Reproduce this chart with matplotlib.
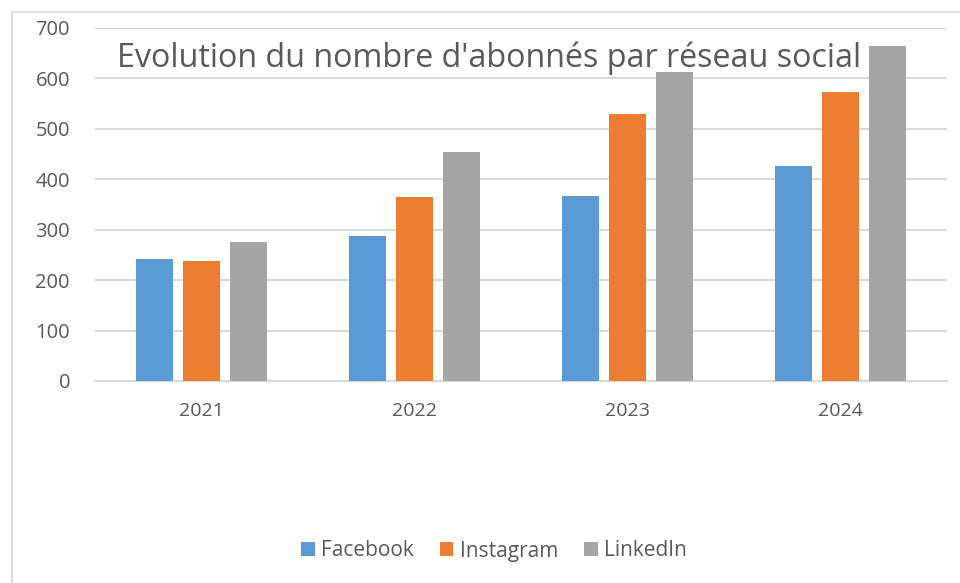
import matplotlib.pyplot as plt
import numpy as np
from matplotlib.patches import Rectangle

years = ['2021', '2022', '2023', '2024']
facebook = [242, 288, 367, 427]
instagram = [237, 365, 530, 573]
linkedin = [275, 455, 612, 665]

series = ['Facebook', 'Instagram', 'LinkedIn']
colors = ['#5B9BD5', '#ED7D31', '#A5A5A5']
text_color = '#595959'

plt.rcParams['font.family'] = ['Open Sans', 'DejaVu Sans']

W, H = 960, 583
fig = plt.figure(figsize=(W / 100, H / 100), dpi=100)
ax = fig.add_axes([95 / W, 1 - 381 / H, (947 - 95) / W, (381 - 28) / H])

x = np.arange(len(years))
step = 0.22
width = 0.175
for i, (name, vals) in enumerate(zip(series, [facebook, instagram, linkedin])):
    ax.bar(x + (i - 1) * step, vals, width, color=colors[i], label=name, zorder=3)

ax.set_xlim(-0.5, len(years) - 0.5)
ax.set_ylim(0, 700)
ax.set_yticks(range(0, 701, 100))
ax.set_xticks(x)
ax.set_xticklabels(years)
ax.yaxis.grid(True, color='#D9D9D9', linewidth=1.5, zorder=0)
ax.set_axisbelow(True)
for s in ['top', 'right', 'left']:
    ax.spines[s].set_visible(False)
ax.spines['bottom'].set_color('#D9D9D9')
ax.spines['bottom'].set_linewidth(1.5)
ax.tick_params(axis='both', length=0, colors=text_color)
ax.tick_params(axis='y', labelsize=14.5, pad=18)
ax.tick_params(axis='x', labelsize=14, pad=15)

fig.text(489 / W, 1 - 58 / H, "Evolution du nombre d'abonnés par réseau social",
         ha='center', va='center', fontsize=23.2, color=text_color, zorder=10)

fig.legend(loc='center', bbox_to_anchor=(494 / W, 1 - 551 / H), ncol=3,
           frameon=False, fontsize=15, labelcolor=text_color,
           handlelength=0.65, handleheight=0.65, handletextpad=0.3, columnspacing=1.25)

fig.patches.append(Rectangle((12 / W, -0.1), 1.2, 1 - 12 / H + 0.1,
                             transform=fig.transFigure, fill=False,
                             edgecolor='#D9D9D9', linewidth=1.2))

fig.savefig('out.png', dpi=100)
